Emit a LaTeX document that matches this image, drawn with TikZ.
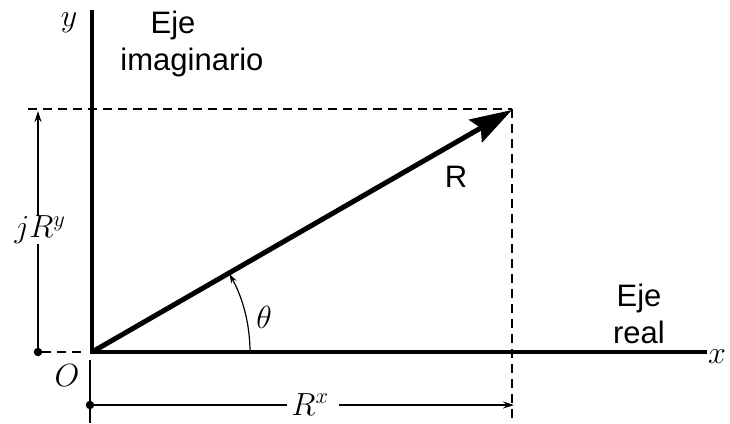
\RequirePackage{fix-cm}
\documentclass[tikz,border=0pt]{standalone}
\usepackage{fontspec}
\setsansfont{Liberation Sans}
\usetikzlibrary{arrows.meta}
\begin{document}
\begin{tikzpicture}[x=1pt,y=-1pt,
  axis/.style={line width=3.2pt},
  thinline/.style={line width=1.2pt},
  dashline/.style={line width=1.2pt, dash pattern=on 9pt off 6pt},
  lab/.style={font=\sffamily\fontsize{31}{37}\selectfont, align=center, inner sep=0pt},
  mathlab/.style={font=\fontsize{32}{32}\selectfont, inner sep=0pt},
  dimarrow/.style={line width=1.2pt,-{Stealth[length=11pt,width=7pt]}},
  dotnode/.style={circle,fill,inner sep=0pt,minimum size=8.5pt}]
\useasboundingbox (0,0) rectangle (730,423);
\coordinate (O) at (92,352);
\coordinate (T) at (512,110);
\coordinate (Ytop) at (92,10);
\coordinate (Xend) at (707,352);
\coordinate (L) at (28,109);
\coordinate (C) at (512,109);
\coordinate (Cb) at (512,423);
\coordinate (DimTop) at (38,111);
\coordinate (Ob) at (90,360);
\coordinate (Obb) at (90,423);
\coordinate (DimEnd) at (514,405);
\coordinate (OL) at (84,352);
% axes
\draw[axis] (Ytop) -- (O) -- (Xend);
% dashed projections
\draw[dashline] (L) -- (C);
\draw[dashline] (C) -- (Cb);
% vector R
\draw[line width=5pt, -{Stealth[length=42pt,width=26pt,inset=6pt]}] (O) -- (T);
% angle
\draw[thinline, -{Stealth[length=9pt,width=6pt]}] ([xshift=158pt]O) arc[start angle=0, end angle=-29.5, radius=158];
\node[mathlab] (th) at (264,317) {$\theta$};
% left dimension
\node[dotnode] (dl) at (38,352) {};
\node[mathlab] (jry) at (40,230) {$jR^y$};
\draw[thinline] (dl) -- (dl |- jry.south);
\draw[dimarrow] (dl |- jry.north) -- (DimTop);
\draw[dashline] (dl) -- (OL);
% bottom dimension
\draw[thinline] (Ob) -- (Obb);
\node[dotnode] (db) at (90,405) {};
\node[mathlab, anchor=base] (rx) at (310,415) {$R^x$};
\draw[thinline] (db) -- ([xshift=-4pt]rx.west |- db);
\draw[dimarrow] ([xshift=10pt]rx.east |- db) -- (DimEnd);
% labels
\node[mathlab] (ly) at (69,23) {$y$};
\node[mathlab] (lx) at (717,357) {$x$};
\node[mathlab] (lo) at (67,376) {$O$};
\node[lab] (ei) at (192,44) {Eje\hspace*{38pt}\\imaginario};
\node[lab] (er) at (639,314) {Eje\\real};
\node[lab] (lr) at (456,177) {R};
\end{tikzpicture}
\end{document}
